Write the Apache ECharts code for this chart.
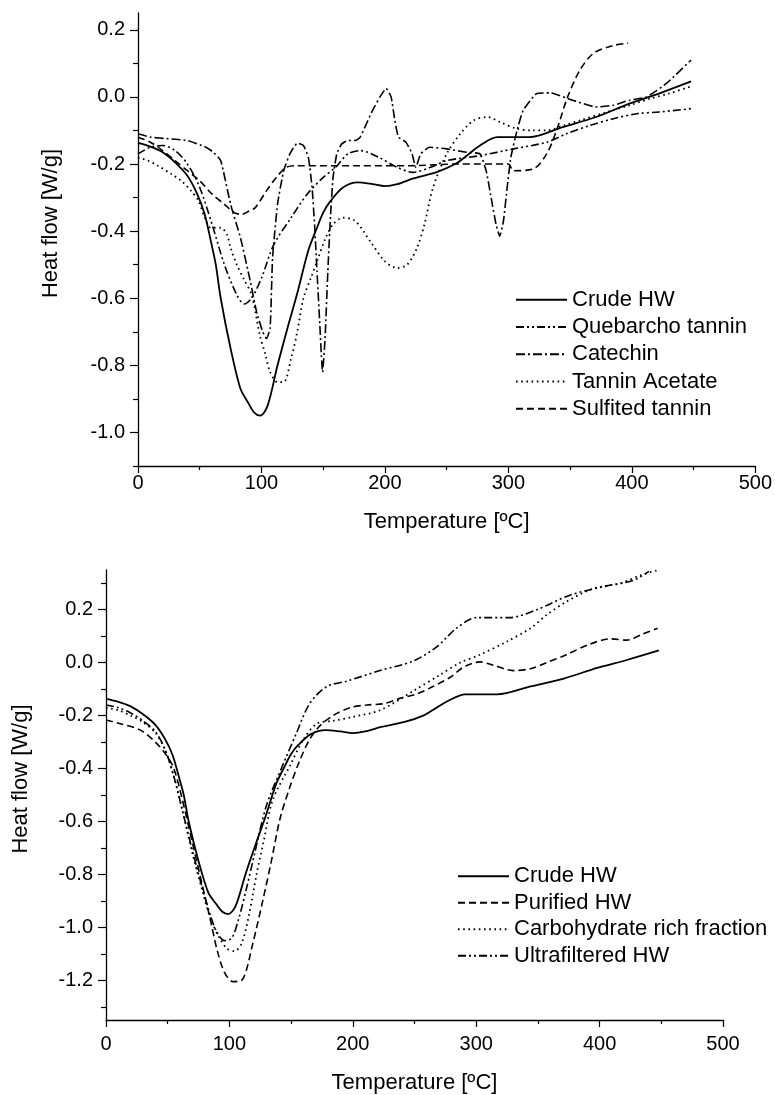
<!DOCTYPE html>
<html>
<head>
<meta charset="utf-8">
<script src="https://cdn.jsdelivr.net/npm/echarts@6/dist/echarts.min.js"></script>
<style>
html,body{margin:0;padding:0;background:#fff;}
#c{width:775px;height:1095px;}
</style>
</head>
<body>
<div id="c"></div>
<script>
// ---------- DATA (temperature in °C, heat flow in W/g) ----------
var crudeHW = [[0,-0.137],[10,-0.148],[20,-0.165],[30,-0.195],[40,-0.235],[48,-0.29],[54,-0.35],[59,-0.43],[63,-0.5],[67,-0.6],[75,-0.75],[83,-0.87],[89,-0.91],[94,-0.94],[99,-0.95],[105,-0.92],[113,-0.80],[121,-0.69],[129,-0.585],[138,-0.457],[145,-0.39],[150,-0.345],[156,-0.31],[166,-0.27],[178,-0.255],[190,-0.26],[200,-0.266],[210,-0.26],[223,-0.243],[242,-0.224],[258,-0.198],[268,-0.17],[277,-0.145],[291,-0.12],[317,-0.12],[344,-0.09],[371,-0.06],[398,-0.02],[422,0.01],[448,0.046]];
var quebarchoTannin = [[0,-0.17],[10,-0.15],[20,-0.145],[30,-0.16],[40,-0.2],[50,-0.27],[60,-0.38],[70,-0.5],[80,-0.59],[86,-0.617],[92,-0.6],[100,-0.54],[110,-0.44],[124,-0.36],[137,-0.29],[150,-0.24],[160,-0.21],[170,-0.17],[180,-0.16],[195,-0.18],[210,-0.21],[223,-0.225],[237,-0.21],[250,-0.19],[277,-0.175],[304,-0.155],[331,-0.135],[347,-0.11],[366,-0.085],[385,-0.065],[404,-0.05],[422,-0.045],[448,-0.035]];
var catechin = [[0,-0.11],[10,-0.12],[25,-0.125],[40,-0.13],[55,-0.15],[61,-0.165],[67,-0.19],[75,-0.32],[83,-0.42],[91,-0.55],[96,-0.64],[101,-0.70],[104,-0.72],[107,-0.69],[109,-0.48],[113,-0.32],[118,-0.22],[123,-0.17],[129,-0.138],[134,-0.145],[138,-0.18],[141,-0.27],[143,-0.38],[145,-0.52],[147,-0.66],[149.5,-0.82],[151.5,-0.72],[154,-0.5],[156,-0.35],[158,-0.24],[161,-0.17],[165,-0.14],[170,-0.13],[176,-0.13],[180,-0.12],[185,-0.08],[190,-0.04],[196,0.0],[201,0.025],[205,0.0],[208,-0.07],[211,-0.12],[217,-0.135],[222,-0.17],[225,-0.21],[229,-0.17],[236,-0.15],[250,-0.155],[266,-0.165],[277,-0.17],[282,-0.22],[286,-0.3],[290,-0.38],[293,-0.415],[296,-0.37],[299,-0.27],[302,-0.18],[307,-0.10],[312,-0.04],[323,0.01],[334,0.012],[352,-0.01],[371,-0.03],[385,-0.025],[398,-0.01],[412,0.0],[428,0.04],[448,0.11]];
var tanninAcetate = [[0,-0.18],[8,-0.19],[16,-0.205],[27,-0.23],[35,-0.25],[43,-0.28],[49,-0.31],[54,-0.36],[59,-0.39],[67,-0.39],[72,-0.41],[75,-0.45],[80,-0.5],[86,-0.545],[92,-0.59],[99,-0.715],[103,-0.765],[107,-0.82],[113,-0.85],[118,-0.85],[124,-0.78],[129,-0.70],[134,-0.6],[140,-0.54],[145,-0.49],[152,-0.42],[158,-0.38],[166,-0.36],[176,-0.37],[188,-0.43],[200,-0.49],[210,-0.51],[218,-0.50],[226,-0.45],[232,-0.38],[239,-0.27],[250,-0.17],[261,-0.11],[272,-0.07],[283,-0.06],[293,-0.075],[307,-0.095],[320,-0.10],[331,-0.10],[345,-0.085],[358,-0.07],[380,-0.045],[398,-0.025],[415,-0.005],[430,0.01],[447,0.03]];
var sulfitedTannin = [[0,-0.12],[10,-0.135],[20,-0.16],[30,-0.19],[40,-0.22],[50,-0.25],[60,-0.29],[70,-0.32],[78,-0.345],[84,-0.35],[90,-0.34],[95,-0.33],[104,-0.28],[112,-0.24],[120,-0.21],[127,-0.205],[180,-0.205],[220,-0.205],[260,-0.2],[300,-0.2],[304,-0.22],[320,-0.215],[331,-0.17],[339,-0.10],[348,0.0],[358,0.08],[369,0.13],[385,0.153],[397,0.16]];

var purifiedHW = [[0,-0.217],[11,-0.23],[28,-0.255],[41,-0.305],[49,-0.35],[55,-0.40],[62,-0.52],[70,-0.68],[78,-0.84],[85,-0.98],[90,-1.085],[96,-1.17],[103,-1.205],[111,-1.195],[119,-1.06],[127,-0.90],[134,-0.75],[141,-0.59],[149,-0.47],[157,-0.37],[165,-0.29],[173,-0.24],[184,-0.20],[198,-0.17],[211,-0.16],[225,-0.155],[238,-0.135],[252,-0.118],[265,-0.09],[279,-0.055],[290,-0.016],[303,0.003],[314,-0.01],[330,-0.03],[344,-0.023],[357,0.0],[373,0.03],[392,0.07],[409,0.09],[422,0.085],[435,0.108],[447,0.13]];
var carbohydrateFraction = [[0,-0.17],[10,-0.18],[20,-0.2],[30,-0.225],[40,-0.265],[48,-0.33],[55,-0.43],[62,-0.56],[70,-0.72],[78,-0.86],[85,-0.97],[92,-1.04],[98,-1.08],[104,-1.09],[110,-1.06],[116,-0.95],[122,-0.80],[128,-0.67],[135,-0.52],[149,-0.39],[160,-0.29],[171,-0.23],[184,-0.22],[200,-0.205],[222,-0.18],[249,-0.107],[271,-0.045],[287,0.0],[303,0.03],[325,0.08],[344,0.13],[357,0.18],[373,0.23],[395,0.28],[417,0.30],[433,0.33],[448,0.35]];
var ultrafilteredHW = [[0,-0.16],[10,-0.17],[20,-0.19],[30,-0.22],[40,-0.26],[48,-0.33],[55,-0.43],[62,-0.56],[70,-0.71],[78,-0.85],[85,-0.96],[90,-1.02],[96,-1.05],[102,-1.04],[108,-0.96],[114,-0.85],[120,-0.73],[130,-0.54],[143,-0.39],[154,-0.27],[165,-0.155],[179,-0.09],[195,-0.07],[222,-0.03],[249,0.006],[268,0.06],[284,0.13],[300,0.17],[327,0.17],[349,0.2],[376,0.255],[406,0.29],[427,0.31],[440,0.345]];

var topYLabels = [-1.0,-0.8,-0.6,-0.4,-0.2,0.0,0.2];
var topYMinor = [-1.1,-0.9,-0.7,-0.5,-0.3,-0.1,0.1];
var botYLabels = [-1.2,-1.0,-0.8,-0.6,-0.4,-0.2,0.0,0.2];
var botYMinor = [-1.3,-1.1,-0.9,-0.7,-0.5,-0.3,-0.1,0.1,0.3];

var topNames = ['Crude HW','Quebarcho tannin','Catechin','Tannin Acetate','Sulfited tannin'];
var botNames = ['Crude HW','Purified HW','Carbohydrate rich fraction','Ultrafiltered HW'];

// ---------- STYLE ----------
var FONT = '"Liberation Sans", Arial, sans-serif';
var BLACK = '#000';
var SOLID = 'solid', DASH = [7,4], DOT = [1.6,3.6], DASHDOT = [9,3,2,3], DASHDOTDOT = [8,3,2,3,2,3];

function xAxisDef(grid, gap, margin){
  return {
    type:'value', gridIndex:grid, min:0, max:500, interval:100,
    axisLine:{show:true, onZero:false, lineStyle:{color:BLACK, width:1.3}},
    axisTick:{show:true, inside:false, length:7, lineStyle:{color:BLACK, width:1.2}},
    minorTick:{show:true, splitNumber:2, length:4, lineStyle:{color:BLACK, width:1.2}},
    splitLine:{show:false},
    axisLabel:{color:BLACK, fontFamily:FONT, fontSize:20, margin:margin,
      formatter:function(v){return String(v);}},
    name:'Temperature [ºC]', nameLocation:'middle', nameGap:gap,
    nameTextStyle:{color:BLACK, fontFamily:FONT, fontSize:22}
  };
}
function yAxisMain(grid, min, max, labels, gap){
  return {
    type:'value', gridIndex:grid, min:min, max:max,
    axisLine:{show:true, onZero:false, lineStyle:{color:BLACK, width:1.3}},
    axisTick:{show:true, inside:false, length:8, customValues:labels, lineStyle:{color:BLACK, width:1.2}},
    splitLine:{show:false},
    axisLabel:{color:BLACK, fontFamily:FONT, fontSize:20, margin:13, customValues:labels,
      formatter:function(v){return (Math.round(v*10)/10).toFixed(1);}},
    name:'Heat flow [W/g]', nameLocation:'middle', nameGap:gap, nameRotate:90,
    nameTextStyle:{color:BLACK, fontFamily:FONT, fontSize:22, padding:[0,0,0,32]}
  };
}
function yAxisMinor(grid, min, max, minors){
  return {
    type:'value', gridIndex:grid, min:min, max:max, position:'left',
    axisLine:{show:false},
    axisTick:{show:true, inside:false, length:5, customValues:minors, lineStyle:{color:BLACK, width:1.2}},
    splitLine:{show:false},
    axisLabel:{show:false}
  };
}
function line(name, data, type, xi, yi, w, sm){
  return {
    name:name, type:'line', data:data, xAxisIndex:xi, yAxisIndex:yi,
    showSymbol:false, symbol:'none', smooth:sm, animation:false,
    lineStyle:{color:BLACK, width:w, type:type},
    itemStyle:{color:BLACK}
  };
}
function legendDef(names, left, top, rowH){
  return {
    data:names, orient:'vertical', left:left, top:top, padding:0,
    itemWidth:51, itemHeight:14, itemGap:0, selectedMode:false,
    itemStyle:{opacity:0},
    textStyle:{color:BLACK, fontFamily:FONT, fontSize:22, lineHeight:rowH}
  };
}

var chart = echarts.init(document.getElementById('c'), null, {renderer:'canvas'});
chart.setOption({
  backgroundColor:'#fff',
  animation:false,
  grid:[
    {left:138, top:13, width:619, height:453, containLabel:false},
    {left:106, top:570, width:617, height:452, containLabel:false}
  ],
  xAxis:[xAxisDef(0, 45, 7), xAxisDef(1, 52, 14)],
  yAxis:[
    yAxisMain(0, -1.1, 0.25, topYLabels, 76),
    yAxisMinor(0, -1.1, 0.25, topYMinor),
    yAxisMain(1, -1.35, 0.35, botYLabels, 74),
    yAxisMinor(1, -1.35, 0.35, botYMinor)
  ],
  legend:[
    legendDef(topNames, 515, 286, 27.3),
    legendDef(botNames, 457, 863, 26.5)
  ],
  series:[
    line('Crude HW', crudeHW, SOLID, 0, 0, 1.8, 0.3),
    line('Quebarcho tannin', quebarchoTannin, DASHDOTDOT, 0, 0, 1.6, 0.3),
    line('Catechin', catechin, DASHDOT, 0, 0, 1.6, 0.15),
    line('Tannin Acetate', tanninAcetate, DOT, 0, 0, 1.8, 0.3),
    line('Sulfited tannin', sulfitedTannin, DASH, 0, 0, 1.6, 0.3),
    line('Crude HW', crudeHW, SOLID, 1, 2, 1.8, 0.3),
    line('Purified HW', purifiedHW, DASH, 1, 2, 1.6, 0.3),
    line('Carbohydrate rich fraction', carbohydrateFraction, DOT, 1, 2, 1.8, 0.3),
    line('Ultrafiltered HW', ultrafilteredHW, DASHDOTDOT, 1, 2, 1.6, 0.3)
  ]
});
</script>
</body>
</html>
